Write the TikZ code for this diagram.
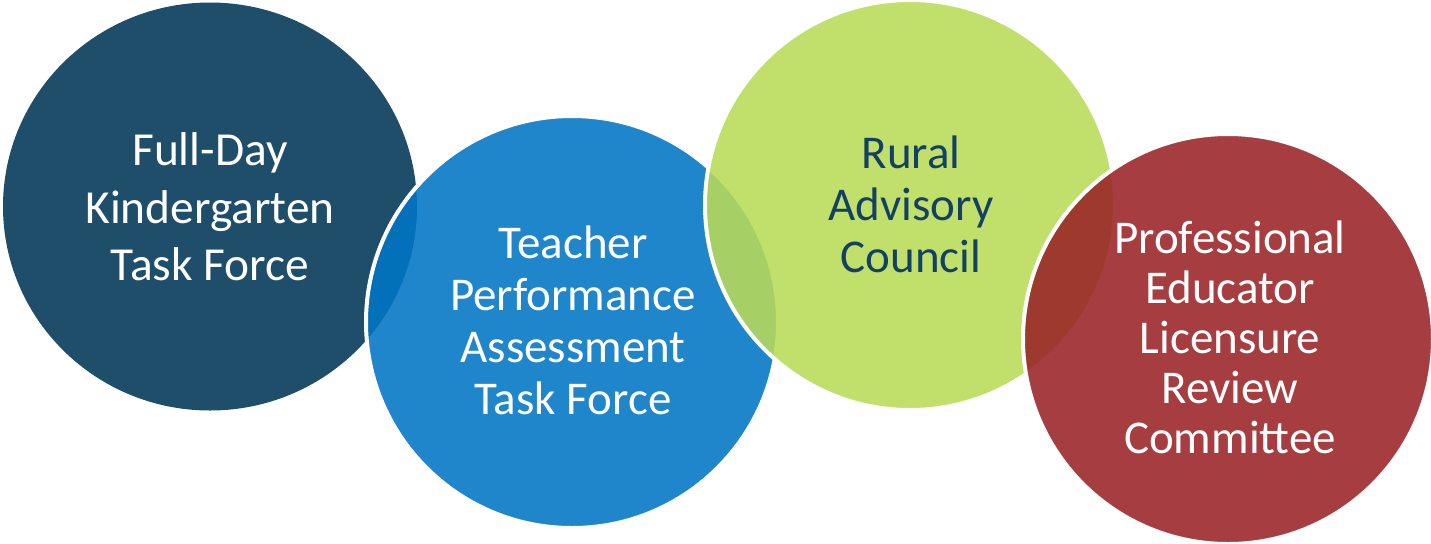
\documentclass[tikz,border=0pt]{standalone}
\usepackage{fontspec}
\setmainfont{Carlito}
\usetikzlibrary{positioning}

\definecolor{kgblue}{RGB}{31,78,107}
\definecolor{tpablue}{RGB}{0,118,196}
\definecolor{ruralgreen}{RGB}{185,219,87}
\definecolor{ruralink}{RGB}{20,64,100}
\definecolor{pelred}{RGB}{154,35,38}

\tikzset{
	bubble/.style={draw=white, line width=2pt, fill opacity=0.88},
	bubbletext/.style={align=center, text=white, inner sep=0pt,
		font=\fontsize{23.5}{26}\selectfont}
}

\begin{document}
\begin{tikzpicture}[x=0.5pt,y=-0.5pt]
	\fill [white] (0,0) rectangle (1431,543);
	\useasboundingbox (0,0) rectangle (1431,543);

	% the four groups, each one laid over the one before
	\fill [kgblue] (210,206.5) ellipse [x radius=103.5pt, y radius=102pt];

	\draw [bubble, fill=tpablue] (572,322) circle [radius=103pt];

	\draw [bubble, fill=ruralgreen] (910,205) circle [radius=102.5pt];

	\draw [bubble, fill=pelred] (1228,339) circle [radius=102.5pt];

	% names of the groups
	\node [bubbletext, font=\fontsize{23.7}{28.8}\selectfont] (kg) at (210,207)
		{Full-Day\\Kindergarten\\Task Force};

	\node [bubbletext] (tpa) at (573,320)
		{Teacher\\Performance\\Assessment\\Task Force};

	\node [bubbletext, text=ruralink] (rural) at (911,204)
		{Rural\\Advisory\\Council};

	\node [bubbletext, font=\fontsize{23.5}{25}\selectfont] (pel) at (1230,337)
		{Professional\\Educator\\Licensure\\Review\\Committee};
\end{tikzpicture}
\end{document}
